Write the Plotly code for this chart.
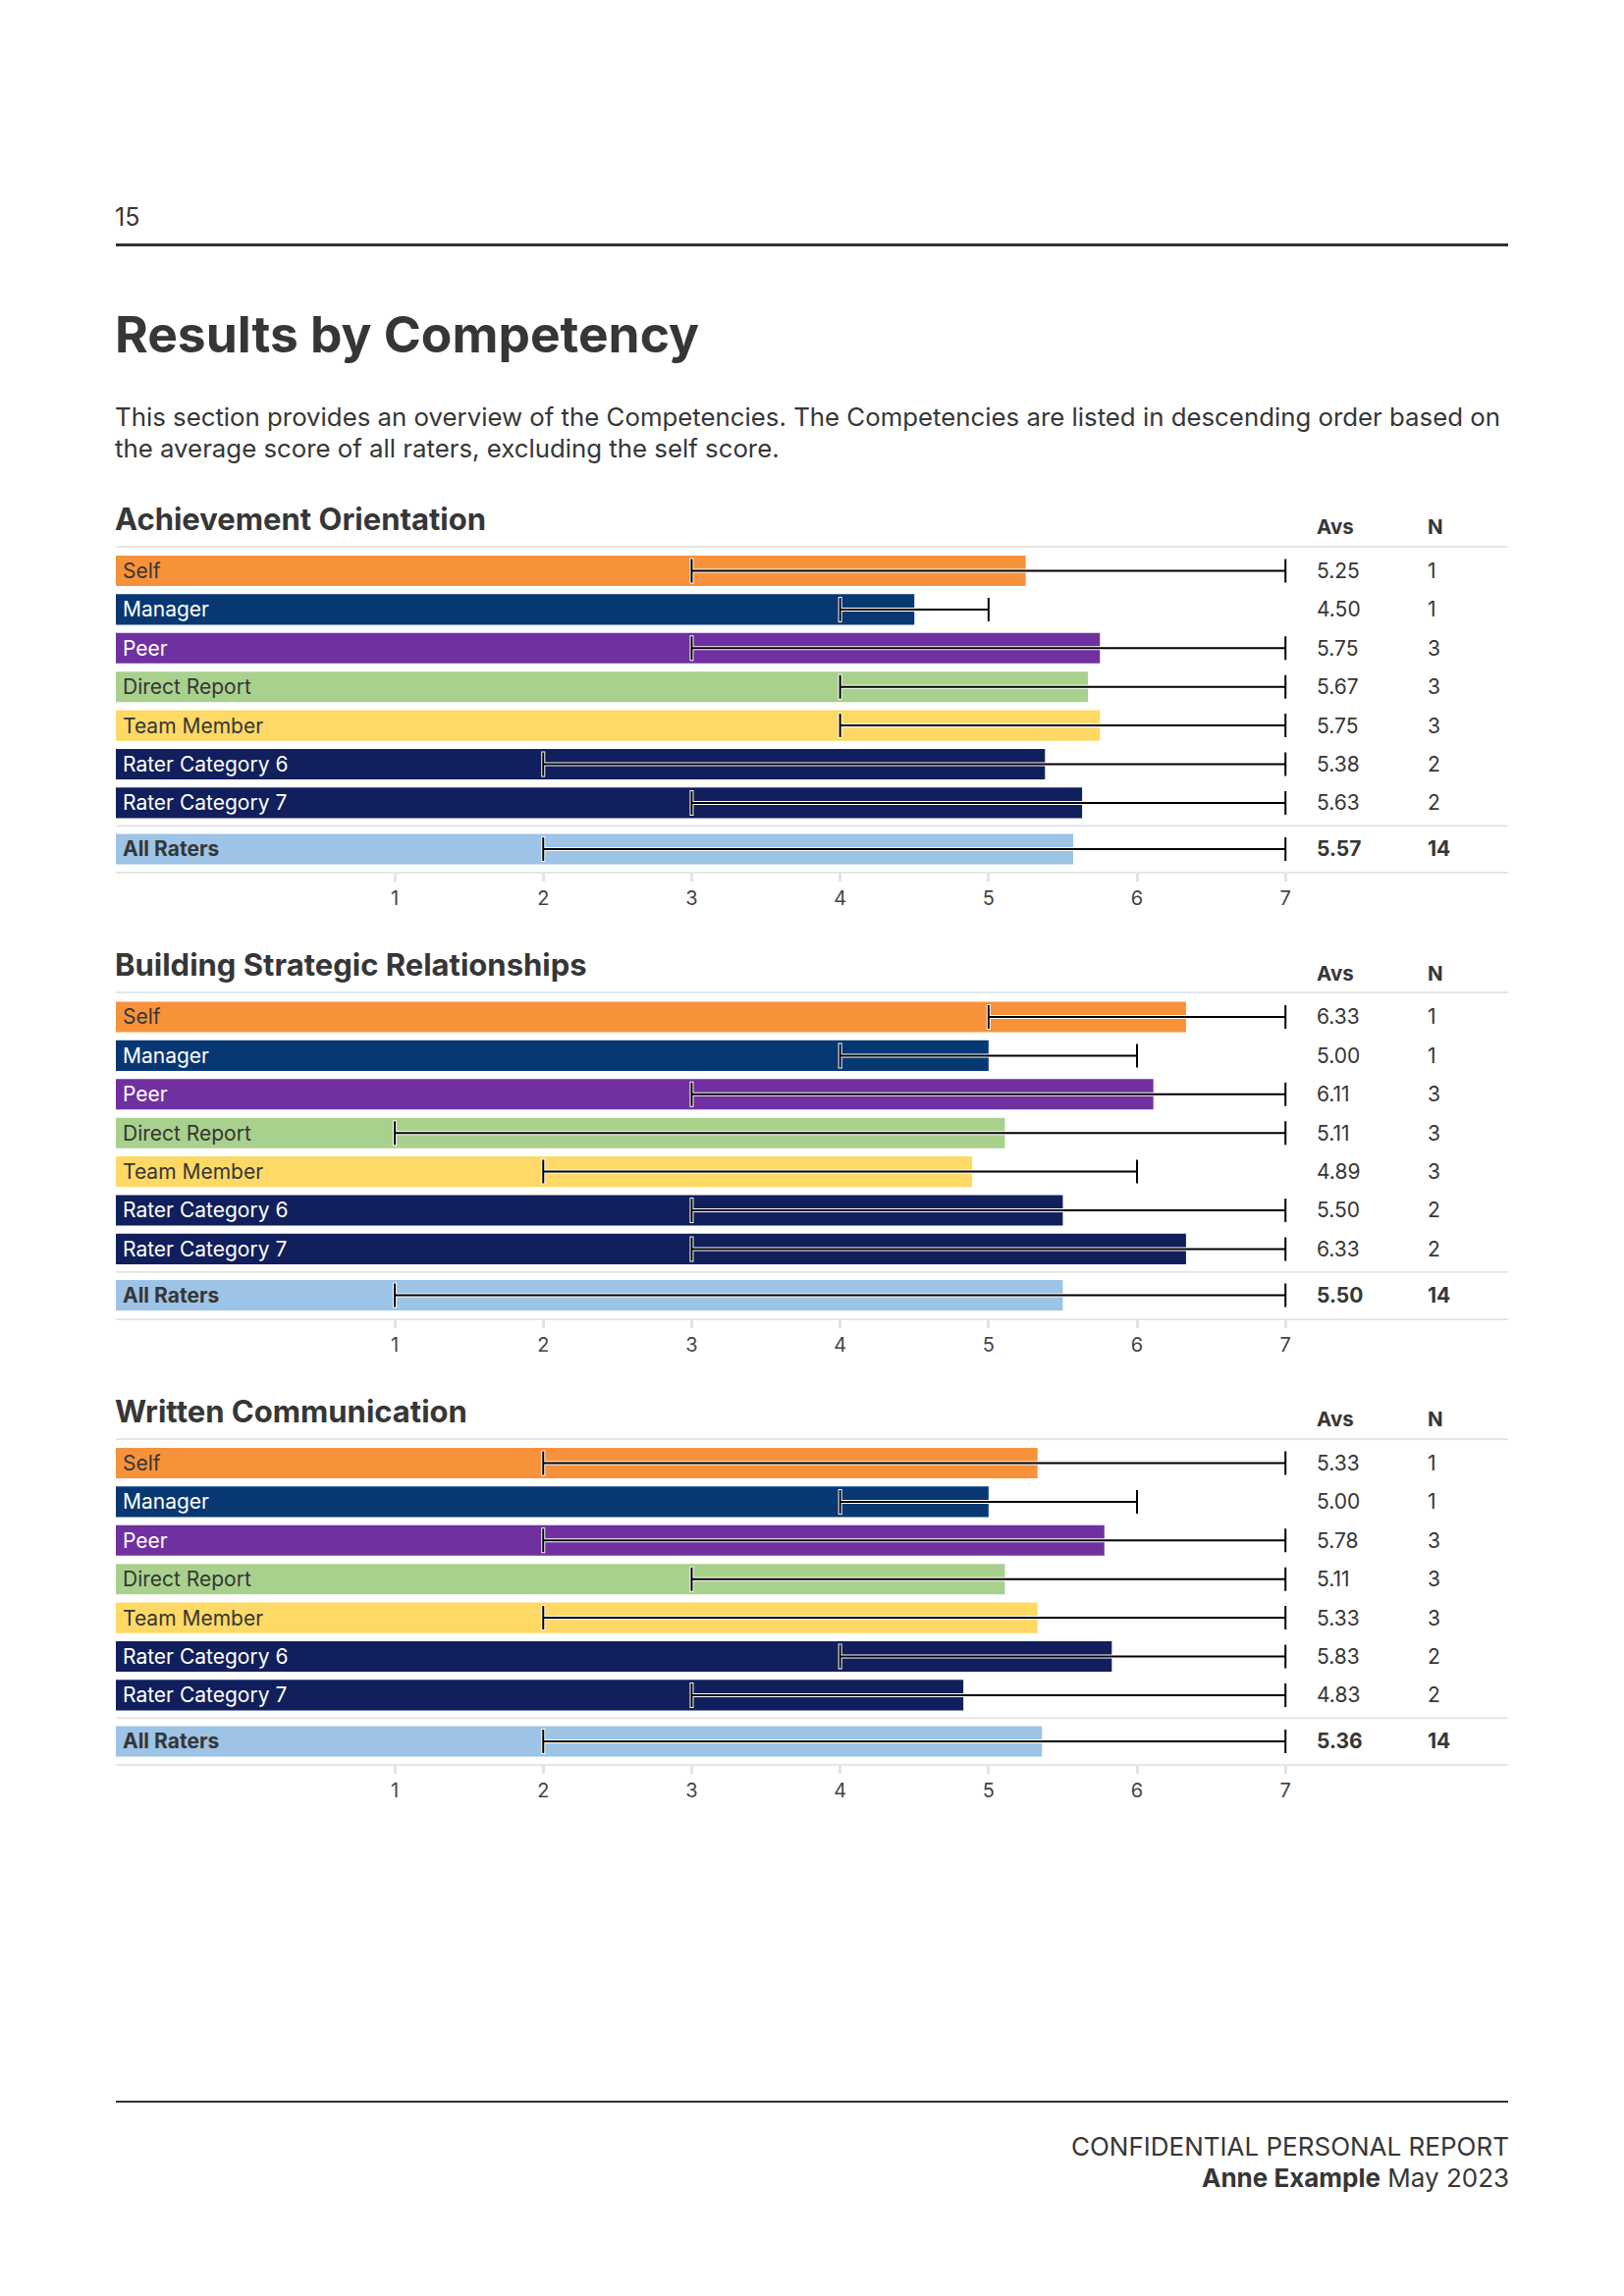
import plotly.graph_objects as go

W, H = 1654, 2339
PAGE_PAD = 8                  # default body margin of the html page
FONT = "Inter"
TEXT = "#363636"

# ---- data ---------------------------------------------------------------
ROWS = ["Self", "Manager", "Peer", "Direct Report", "Team Member",
        "Rater Category 6", "Rater Category 7", "All Raters"]

COMPETENCIES = ["Achievement Orientation",
                "Building Strategic Relationships",
                "Written Communication"]

AO_AVG = [5.25, 4.50, 5.75, 5.67, 5.75, 5.38, 5.63, 5.57]
AO_MIN = [3, 4, 3, 4, 4, 2, 3, 2]
AO_MAX = [7, 5, 7, 7, 7, 7, 7, 7]
AO_N = [1, 1, 3, 3, 3, 2, 2, 14]

BSR_AVG = [6.33, 5.00, 6.11, 5.11, 4.89, 5.50, 6.33, 5.50]
BSR_MIN = [5, 4, 3, 1, 2, 3, 3, 1]
BSR_MAX = [7, 6, 7, 7, 6, 7, 7, 7]
BSR_N = [1, 1, 3, 3, 3, 2, 2, 14]

WC_AVG = [5.33, 5.00, 5.78, 5.11, 5.33, 5.83, 4.83, 5.36]
WC_MIN = [2, 4, 2, 3, 2, 4, 3, 2]
WC_MAX = [7, 6, 7, 7, 7, 7, 7, 7]
WC_N = [1, 1, 3, 3, 3, 2, 2, 14]

SCALE_TICKS = [1, 2, 3, 4, 5, 6, 7]

SECTIONS = [
    (AO_AVG, AO_MIN, AO_MAX, AO_N),
    (BSR_AVG, BSR_MIN, BSR_MAX, BSR_N),
    (WC_AVG, WC_MIN, WC_MAX, WC_N),
]

# ---- styling ------------------------------------------------------------
ROW_COLOURS = ["#F7923A", "#073874", "#7030A0", "#A9D18E",
               "#FFD966", "#111F5C", "#111F5C", "#9DC3E6"]
LABEL_COLOURS = [TEXT, "#FFFFFF", "#FFFFFF", TEXT,
                 TEXT, "#FFFFFF", "#FFFFFF", TEXT]

# row slots: 7 rater groups, then a gap, then All Raters
ROW_POS = [0, 1, 2, 3, 4, 5, 6, 7.195]
Y_RANGE = [7.787, -0.609]
SEP_POS = 6.594
BAR_W = 0.79

X0, X1 = -0.879, 8.5          # axis spans the full text column
LEFT_PX, RIGHT_PX = 118, 1535
AVS_PX, N_PX = 1339, 1452
SECTION_STEP = 454.5
TOP_RULE, BOTTOM_RULE = 557.5, 888.3


def px_x(x):
    return (x - PAGE_PAD) / W


def px_y(y):
    return 1 - (y - PAGE_PAD) / H


fig = go.Figure()
annotations = []
shapes = []


def note(text, x, y, size, xanchor="left", bold=False, color=TEXT, **kw):
    annotations.append(dict(
        text=f"<b>{text}</b>" if bold else text,
        x=x, y=y, xanchor=xanchor, yanchor="middle",
        showarrow=False, font=dict(family=FONT, size=size, color=color),
        **kw,
    ))


for k, (avg, lo, hi, n) in enumerate(SECTIONS):
    sfx = "" if k == 0 else str(k + 1)
    xa, ya = "x" + sfx, "y" + sfx
    off = SECTION_STEP * k
    top_px, bot_px = TOP_RULE + off, BOTTOM_RULE + off

    fig.add_trace(go.Bar(
        orientation="h",
        y=ROW_POS,
        x=[a - X0 for a in avg],
        base=X0,
        width=BAR_W,
        marker=dict(color=ROW_COLOURS, line=dict(width=0)),
        xaxis=xa, yaxis=ya,
        hoverinfo="skip",
        showlegend=False,
    ))
    # range line: white halo underneath, black on top
    for colour, thick, cap in (("#FFFFFF", 4, 13), ("#000000", 2, 12)):
        fig.add_trace(go.Scatter(
            x=lo, y=ROW_POS,
            mode="markers",
            marker=dict(size=1, color="rgba(0,0,0,0)"),
            error_x=dict(type="data", symmetric=False,
                         array=[h - l for h, l in zip(hi, lo)],
                         arrayminus=[0] * len(lo),
                         color=colour, thickness=thick, width=cap),
            xaxis=xa, yaxis=ya,
            hoverinfo="skip",
            showlegend=False,
        ))

    axis_x = dict(
        domain=[px_x(LEFT_PX), px_x(RIGHT_PX + 1)],
        range=[X0, X1],
        anchor=ya,
        tickmode="array", tickvals=SCALE_TICKS,
        ticks="outside", ticklen=8, tickwidth=3, tickcolor="#E3E3E3",
        showline=True, linecolor="#E6E6E6", linewidth=2, mirror=True,
        showgrid=False, zeroline=False,
        tickfont=dict(family=FONT, size=20, color="#444444"),
        fixedrange=True,
    )
    axis_y = dict(
        domain=[px_y(bot_px), px_y(top_px)],
        range=Y_RANGE,
        anchor=xa,
        visible=False,
        fixedrange=True,
    )
    fig.update_layout({"xaxis" + sfx: axis_x, "yaxis" + sfx: axis_y})

    shapes.append(dict(type="line", xref=xa + " domain", yref=ya,
                       x0=0, x1=1, y0=SEP_POS, y1=SEP_POS,
                       line=dict(color="#E6E6E6", width=2)))

    # headings
    note(COMPETENCIES[k], px_x(LEFT_PX), px_y(528.5 + off), 31, bold=True,
         xref="paper", yref="paper", xshift=-3)
    note("Avs", px_x(AVS_PX), px_y(536.5 + off), 20.5, bold=True,
         xref="paper", yref="paper")
    note("N", px_x(N_PX), px_y(536.5 + off), 20.5, bold=True,
         xref="paper", yref="paper")

    last = len(ROWS) - 1
    for i, name in enumerate(ROWS):
        note(name, X0, ROW_POS[i], 21, bold=(i == last),
             color=LABEL_COLOURS[i], xref=xa, yref=ya, xshift=5)
        note(f"{avg[i]:.2f}", px_x(AVS_PX), ROW_POS[i], 21, bold=(i == last),
             xref="paper", yref=ya)
        note(str(n[i]), px_x(N_PX), ROW_POS[i], 21, bold=(i == last),
             xref="paper", yref=ya)

# page furniture
note("15", px_x(LEFT_PX), px_y(221.5), 25, xref="paper", yref="paper",
     xshift=-3)
note("Results by Competency", px_x(LEFT_PX), px_y(340), 51.5, bold=True,
     xref="paper", yref="paper", xshift=-3)
note("This section provides an overview of the Competencies. The Competencies "
     "are listed in descending order based on",
     px_x(LEFT_PX), px_y(424.5), 25.8, xref="paper", yref="paper", xshift=-3)
note("the average score of all raters, excluding the self score.",
     px_x(LEFT_PX), px_y(456.5), 25.8, xref="paper", yref="paper", xshift=-3)
note("CONFIDENTIAL PERSONAL REPORT", px_x(RIGHT_PX), px_y(2186), 26,
     xanchor="right", xref="paper", yref="paper", xshift=4)
note("<b>Anne Example</b> May 2023", px_x(RIGHT_PX), px_y(2218), 26,
     xanchor="right", xref="paper", yref="paper", xshift=4)

shapes.append(dict(type="line", xref="paper", yref="paper",
                   x0=px_x(LEFT_PX), x1=px_x(RIGHT_PX + 1),
                   y0=px_y(249.5), y1=px_y(249.5),
                   line=dict(color="#333333", width=3)))
shapes.append(dict(type="line", xref="paper", yref="paper",
                   x0=px_x(LEFT_PX), x1=px_x(RIGHT_PX + 1),
                   y0=px_y(2141), y1=px_y(2141),
                   line=dict(color="#333333", width=2)))

fig.update_layout(
    width=W, height=H,
    margin=dict(l=0, r=0, t=0, b=0),
    plot_bgcolor="#FFFFFF",
    paper_bgcolor="#FFFFFF",
    showlegend=False,
    annotations=annotations,
    shapes=shapes,
    font=dict(family=FONT, color=TEXT),
)

fig.write_html("out.html")
